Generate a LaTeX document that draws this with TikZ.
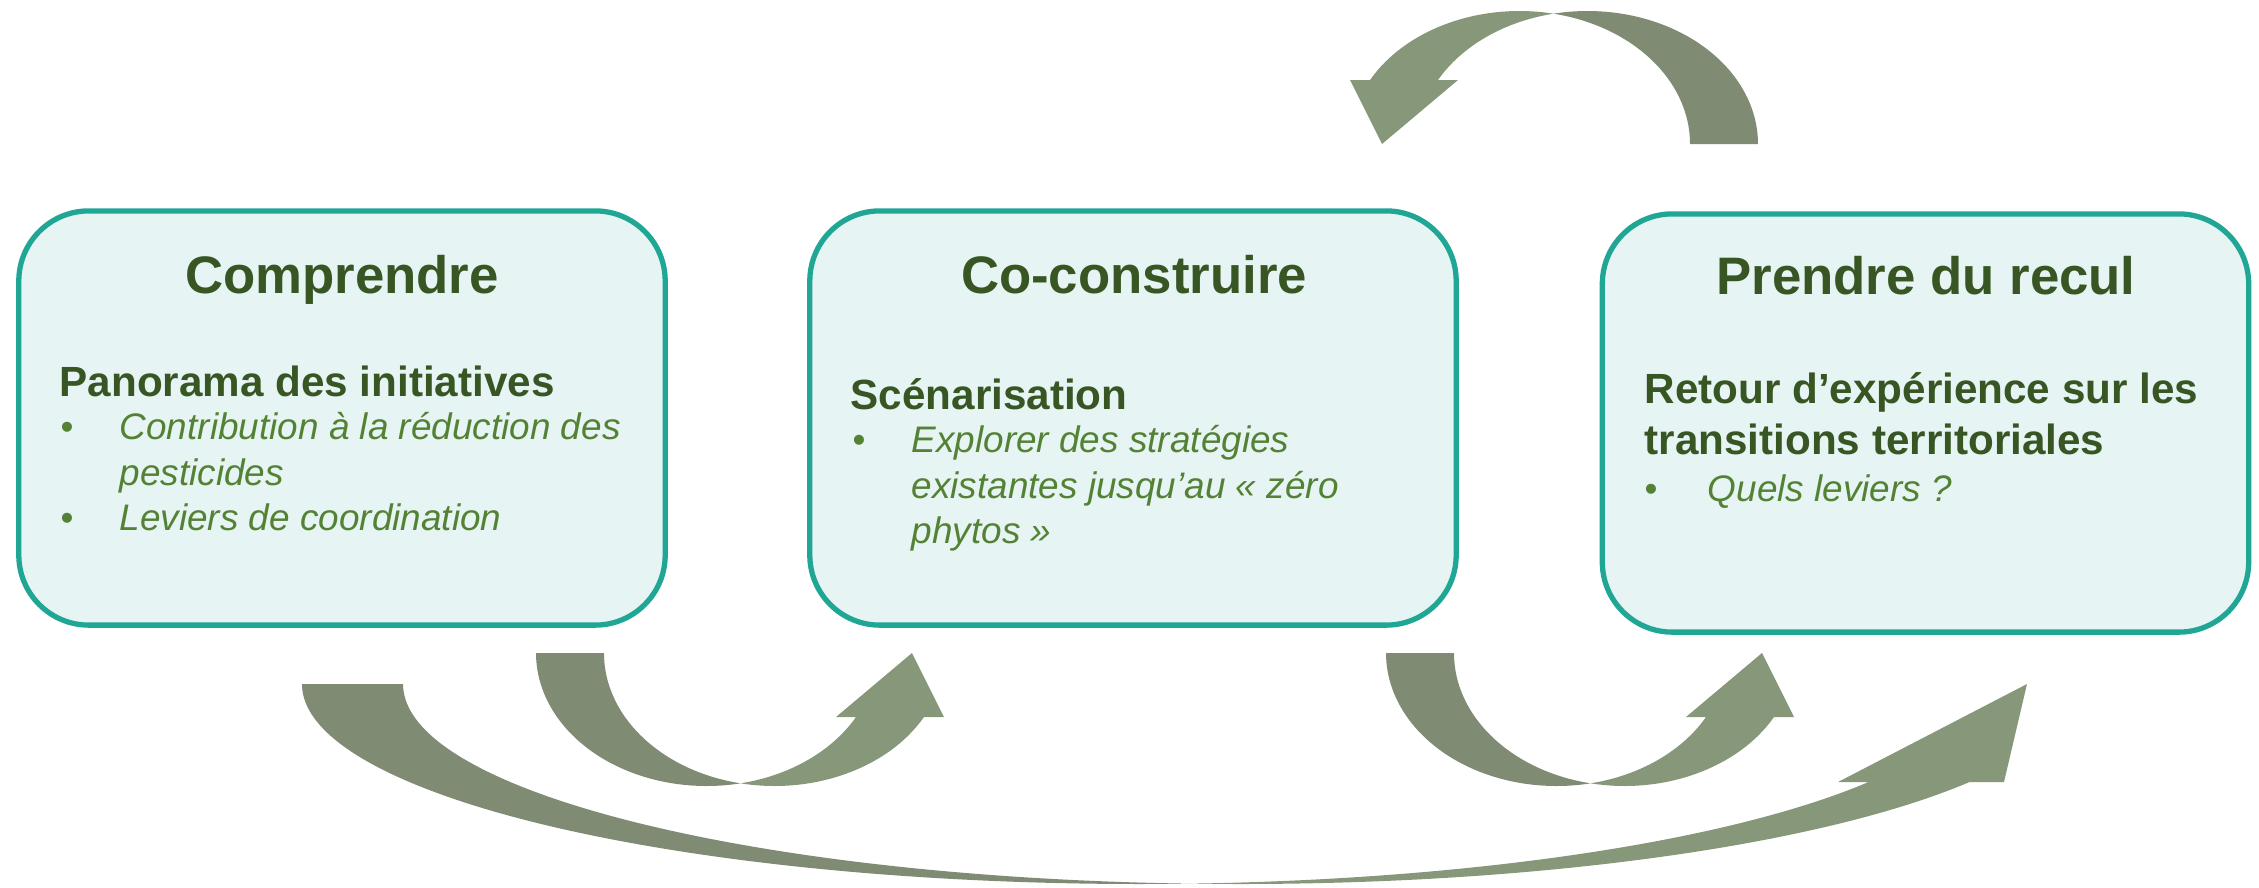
\documentclass[tikz,border=0pt]{standalone}
\usepackage{fontspec}
\setmainfont{Liberation Sans}
\usetikzlibrary{positioning}

\definecolor{boxline}{RGB}{32,166,148}
\definecolor{boxfill}{RGB}{230,244,243}
\definecolor{headgreen}{RGB}{55,86,35}
\definecolor{itemgreen}{RGB}{84,130,53}
\definecolor{backgreen}{RGB}{127,139,115}
\definecolor{frontgreen}{RGB}{135,151,122}

\newcommand{\bulletmark}{\makebox[0.59cm][l]{\upshape\textbullet}}
\newcommand{\hangspace}{\hspace*{0.59cm}}

\tikzset{
  stagebox/.style={draw=boxline, line width=1.5pt, fill=boxfill, rounded corners=0.7cm,
    minimum width=6.46cm, minimum height=4.14cm, inner sep=0pt},
  stagetitle/.style={text=headgreen, font=\fontsize{15}{18}\selectfont\bfseries, inner sep=0pt, anchor=base},
  subhead/.style={text=headgreen, font=\fontsize{12}{14.5}\selectfont\bfseries, inner sep=0pt,
    anchor=base west, align=left},
  items/.style={text=itemgreen, font=\fontsize{10.5}{12.8}\selectfont\itshape, inner sep=0pt,
    anchor=base west, align=left},
  backband/.style={fill=backgreen},
  frontband/.style={fill=frontgreen},
}

\begin{document}
\begin{tikzpicture}[x=0.01cm, y=-0.01cm]
        \useasboundingbox (0,0) rectangle (2259,887);

        \node[stagebox] (comprendre) at (342,418) {};
        \node[stagebox] (coconstruire) at (1133,418) {};
        \node[stagebox, minimum height=4.18cm] (recul) at (1925.5,423) {};

        \node[stagetitle] (comprendretitle) at (342,293) {Comprendre};
        \node[stagetitle] (coconstruiretitle) at (1134,293) {Co-construire};
        \node[stagetitle] (recultitle) at (1926,294) {Prendre du recul};

        \node[subhead] (panorama) at (59,396) {Panorama des initiatives};
        \node[items] (panoramaitems) at (60,530) {\bulletmark Contribution à la réduction des\\
          \hangspace pesticides\\
          \bulletmark Leviers de coordination};

        \node[subhead] (scenario) at (850,409) {Scénarisation};
        \node[items] (scenarioitems) at (852,543) {\bulletmark Explorer des stratégies\\
          \hangspace existantes jusqu’au « zéro\\
          \hangspace phytos »};

        \node[subhead] (retour) at (1644,454) {Retour d’expérience sur les\\transitions territoriales};
        \node[items] (retouritems) at (1644,501) {\makebox[0.63cm][l]{\upshape\textbullet}Quels leviers ?};

        \coordinate (tailA) at (536,653);
        \coordinate (tailB) at (1386,653);
        \coordinate (tailD) at (1758,144);
        \coordinate (tailC) at (302,684);

        \foreach \c/\r in {tailA/0, tailB/0, tailD/180} {
          \begin{scope}[shift={(\c)}, rotate=\r]
            \fill[backband] (0,0) arc[start angle=180, end angle=78.5, x radius=170.5, y radius=133]
              arc[start angle=101.5, end angle=180, x radius=170.5, y radius=133] -- cycle;
            \fill[frontband] (376,0) -- (408,64) -- (388,64)
              arc[start angle=28.77, end angle=101.5, x radius=170.5, y radius=133]
              arc[start angle=78.5, end angle=28.77, x radius=170.5, y radius=133]
              -- (300,64) -- cycle;
          \end{scope}
        }

        \begin{scope}[shift={(tailC)}]
          \fill[backband] (0,0) arc[start angle=180, end angle=86.54, x radius=837, y radius=200]
            arc[start angle=93.46, end angle=180, x radius=837, y radius=200] -- cycle;
          \fill[frontband] (1725,0) -- (1702,98) -- (1667.6,98)
            arc[start angle=29.34, end angle=93.46, x radius=837, y radius=200]
            arc[start angle=86.54, end angle=29.34, x radius=837, y radius=200]
            -- (1536,98) -- cycle;
        \end{scope}
\end{tikzpicture}
\end{document}
